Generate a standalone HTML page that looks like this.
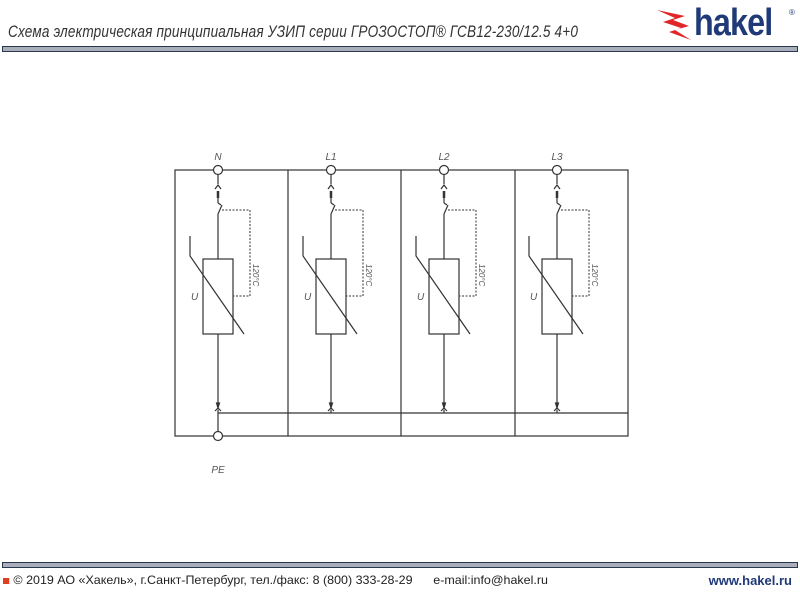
<!DOCTYPE html>
<html><head><meta charset="utf-8"><style>
body{margin:0;width:800px;height:600px;background:#fff;overflow:hidden;position:relative;font-family:"Liberation Sans",sans-serif}
.t{position:absolute;left:8px;top:22px;font-size:17px;font-style:italic;color:#333;font-family:"Liberation Sans Narrow","Liberation Sans",sans-serif;letter-spacing:0.2px;transform:scaleX(0.8);transform-origin:left}
.bar{position:absolute;left:2px;width:794px;height:4px;background:#a9aebb;border:1px solid #2a3550}
.logo{position:absolute;left:694px;top:2px;font-size:38px;font-weight:bold;color:#203a78;letter-spacing:-1px;transform:scaleX(0.85);transform-origin:left}
.foot{position:absolute;left:3px;top:573px;font-size:12px;color:#222;transform:scaleX(1.04);transform-origin:left}
.www{position:absolute;right:8px;top:573px;font-size:13px;font-weight:bold;color:#203a78}
</style></head><body>
<div class="t">Схема электрическая принципиальная УЗИП серии ГРОЗОСТОП® ГСВ12-230/12.5 4+0</div>
<svg style="position:absolute;left:655px;top:6px" width="40" height="40" viewBox="0 0 40 40"><path d="M2 4 L30 10 L18 14 L34 20 L20 24 L36 34 L14 26 L26 22 L8 16 L20 12 Z" fill="#e0262b"/></svg>
<div class="logo">hakel</div><div style="position:absolute;left:789px;top:8px;font-size:8px;color:#203a78">®</div>
<div class="bar" style="top:46px"></div>
<div class="bar" style="top:562px"></div>
<div class="foot"><span style="display:inline-block;width:6px;height:6px;background:#e04020;margin-right:4px"></span>© 2019 АО «Хакель», г.Санкт-Петербург, тел./факс: 8 (800) 333-28-29 &nbsp;&nbsp;&nbsp;&nbsp; e-mail:info@hakel.ru</div>
<div class="www">www.hakel.ru</div>
<svg style="position:absolute;left:0;top:0" width="800" height="600" fill="none" stroke="#333" stroke-width="1.2" font-family="Liberation Sans" >
<defs><g id="u">
<line x1="0" y1="175" x2="0" y2="184"/><path d="M-3 189 L0 185 L3 189"/>
<line x1="0" y1="191" x2="0" y2="198" stroke-width="2.5"/>
<line x1="0" y1="198" x2="0" y2="203"/><line x1="0" y1="203" x2="3" y2="205"/>
<line x1="4" y1="205" x2="0" y2="214"/><line x1="0" y1="214" x2="0" y2="259"/>
<path d="M4 210 H32 V296 H15" stroke-dasharray="2,1.5" stroke-width="1"/>
<rect x="-15" y="259" width="30" height="75"/>
<path d="M-28 236 V256 L26 334"/>
<line x1="0" y1="334" x2="0" y2="403"/><path d="M-1.5 403 L0 408 L1.5 403Z" fill="#333"/>
<path d="M-3 411 L0 408 L3 411"/>
<text x="-27" y="300" font-size="10" font-style="italic" fill="#555" stroke="none">U</text>
<text transform="translate(35,264) rotate(90)" font-size="8" font-style="italic" fill="#555" stroke="none">120°C</text>
</g></defs>
<rect x="175" y="170" width="453" height="266"/>
<line x1="288" y1="170" x2="288" y2="436"/><line x1="401" y1="170" x2="401" y2="436"/><line x1="515" y1="170" x2="515" y2="436"/>
<line x1="218" y1="413" x2="628" y2="413"/>
<line x1="218" y1="410" x2="218" y2="431"/>
<line x1="331" y1="410" x2="331" y2="413"/><line x1="444" y1="410" x2="444" y2="413"/><line x1="557" y1="410" x2="557" y2="413"/>
<use href="#u" x="218"/><use href="#u" x="331"/><use href="#u" x="444"/><use href="#u" x="557"/>
<g fill="#fff"><circle cx="218" cy="170" r="4.5"/><circle cx="331" cy="170" r="4.5"/><circle cx="444" cy="170" r="4.5"/><circle cx="557" cy="170" r="4.5"/><circle cx="218" cy="436" r="4.5"/></g>
<g font-size="10" font-style="italic" fill="#555" stroke="none" text-anchor="middle">
<text x="218" y="160">N</text><text x="331" y="160">L1</text><text x="444" y="160">L2</text><text x="557" y="160">L3</text><text x="218" y="473">PE</text></g>
</svg>
</body></html>
